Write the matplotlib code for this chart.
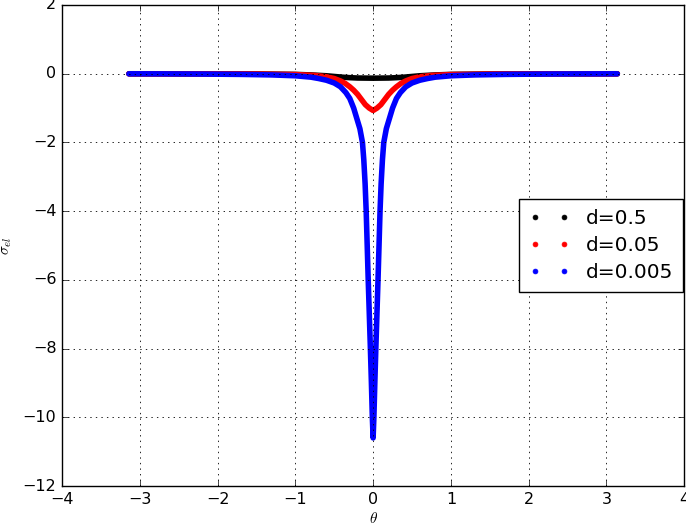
import numpy as np
import matplotlib
matplotlib.use("Agg")
import matplotlib.pyplot as plt
from matplotlib.lines import Line2D

plt.style.use('classic')

# half-curve tables (|theta| >= 0), mirrored to negative theta
theta_blue = [0.0, 0.01, 0.022, 0.035, 0.049, 0.063, 0.076, 0.089, 0.103, 0.12, 0.137,
              0.17, 0.21, 0.25, 0.3, 0.35, 0.42, 0.5, 0.6, 0.7, 0.8, 1.0, 1.3,
              1.7, 2.2, 2.7, 3.14]
sigma_blue = [-10.6, -10.0, -9.0, -8.0, -7.0, -6.0, -5.0, -4.0, -3.2, -2.5, -2.0,
              -1.6, -1.3, -1.0, -0.72, -0.55, -0.38, -0.27, -0.19, -0.14, -0.1, -0.06,
              -0.035, -0.02, -0.01, -0.005, -0.003]

theta_red = [0.0, 0.05, 0.1, 0.15, 0.2, 0.25, 0.3, 0.36, 0.42, 0.5, 0.6, 0.75,
             1.0, 1.5, 2.2, 3.14]
sigma_red = [-1.07, -1.0, -0.9, -0.75, -0.6, -0.48, -0.38, -0.28, -0.21, -0.14,
             -0.09, -0.05, -0.025, -0.01, -0.004, -0.002]

theta_black = [0.0, 0.2, 0.3, 0.4, 0.5, 0.6, 0.8, 1.0, 1.5, 2.2, 3.14]
sigma_black = [-0.13, -0.125, -0.115, -0.1, -0.08, -0.06, -0.035, -0.02, -0.008,
               -0.003, -0.001]

labels = ['d=0.5', 'd=0.05', 'd=0.005']
colors = ['k', 'r', 'b']

x_ticks = [-4, -3, -2, -1, 0, 1, 2, 3, 4]
y_ticks = [-12, -10, -8, -6, -4, -2, 0, 2]


def mirror(t, s):
    t = np.asarray(t)
    s = np.asarray(s)
    return np.concatenate([-t[:0:-1], t]), np.concatenate([s[:0:-1], s])


fig = plt.figure(figsize=(6.86, 5.26), dpi=100, facecolor='white')
ax = fig.add_axes([0.0904, 0.076, 0.907, 0.9145])

series = [(theta_black, sigma_black), (theta_red, sigma_red), (theta_blue, sigma_blue)]
for (t, s), c in zip(series, colors):
    tt, ss = mirror(t, s)
    ax.plot(tt, ss, '-', color=c, lw=4.0, solid_capstyle='round',
            solid_joinstyle='round')

handles = [Line2D([], [], linestyle='None', marker='.', color=c, markeredgecolor=c,
                  markersize=7) for c in colors]
leg = ax.legend(handles, labels, loc='center right', bbox_to_anchor=(1.0, 0.5),
                numpoints=2, fontsize=14.5, borderaxespad=0.05, frameon=True,
                fancybox=False, shadow=False, handlelength=2.0, handletextpad=0.8,
                labelspacing=0.4, borderpad=0.5)
leg.get_frame().set_edgecolor('k')

ax.set_xlim(-4, 4)
ax.set_ylim(-12, 2)
ax.set_xticks(x_ticks)
ax.set_yticks(y_ticks)
ax.grid(True, color='k', linestyle=':', linewidth=0.6)
ax.tick_params(labelsize=11.5)
ax.set_xlabel(r'$\theta$', fontsize=11, labelpad=3)
ax.set_ylabel(r'$\sigma_{el}$', fontsize=11, labelpad=6)

fig.savefig('out.png', dpi=100, facecolor='white')
